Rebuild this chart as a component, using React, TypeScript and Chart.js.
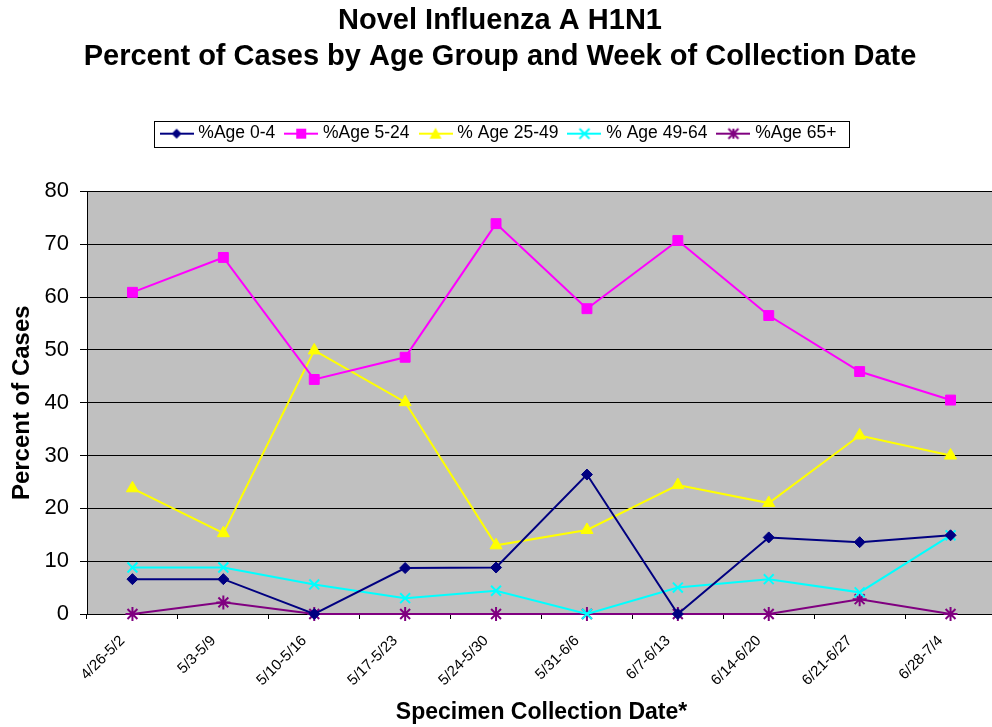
import React, { useEffect, useRef } from "react";
import { Chart, registerables } from "chart.js";

Chart.register(...registerables);

const categories = ["4/26-5/2", "5/3-5/9", "5/10-5/16", "5/17-5/23", "5/24-5/30", "5/31-6/6", "6/7-6/13", "6/14-6/20", "6/21-6/27", "6/28-7/4"];
const age0to4 = [6.6, 6.6, 0, 8.7, 8.8, 26.4, 0, 14.5, 13.6, 14.9];
const age5to24 = [60.9, 67.5, 44.4, 48.6, 73.9, 57.8, 70.7, 56.5, 45.9, 40.5];
const age25to49 = [23.8, 15.3, 49.9, 40.1, 13.0, 15.9, 24.4, 21.0, 33.8, 30.0];
const age49to64 = [8.8, 8.8, 5.6, 3.0, 4.4, 0, 5.0, 6.6, 4.1, 14.9];
const age65plus = [0, 2.2, 0, 0, 0, 0, 0, 0, 2.8, 0];
const seriesLabels = ["%Age 0-4", "%Age 5-24", "% Age 25-49", "% Age 49-64", "%Age 65+"];
const yTicks = [0, 10, 20, 30, 40, 50, 60, 70, 80];

const FONT = "'Liberation Sans', Arial, Helvetica, sans-serif";

function legendIcon(color: string, style: string): HTMLCanvasElement {
  const c = document.createElement("canvas");
  c.width = 34;
  c.height = 14;
  const ctx = c.getContext("2d")!;
  ctx.strokeStyle = color;
  ctx.lineWidth = 2;
  ctx.beginPath();
  ctx.moveTo(0, 7);
  ctx.lineTo(34, 7);
  ctx.stroke();
  ctx.fillStyle = color;
  const x = 17, y = 7, r = 5;
  ctx.beginPath();
  if (style === "rectRot") {
    ctx.moveTo(x, y - r); ctx.lineTo(x + r, y); ctx.lineTo(x, y + r); ctx.lineTo(x - r, y); ctx.closePath(); ctx.fill();
  } else if (style === "rect") {
    ctx.fillRect(x - r, y - r, 2 * r, 2 * r);
  } else if (style === "triangle") {
    ctx.moveTo(x, y - r - 1); ctx.lineTo(x + r + 1, y + r); ctx.lineTo(x - r - 1, y + r); ctx.closePath(); ctx.fill();
  } else if (style === "crossRot") {
    ctx.moveTo(x - r, y - r); ctx.lineTo(x + r, y + r); ctx.moveTo(x + r, y - r); ctx.lineTo(x - r, y + r); ctx.stroke();
  } else if (style === "star") {
    ctx.moveTo(x - r, y - r); ctx.lineTo(x + r, y + r); ctx.moveTo(x + r, y - r); ctx.lineTo(x - r, y + r);
    ctx.moveTo(x, y - r); ctx.lineTo(x, y + r); ctx.stroke();
  }
  return c;
}

const bgPlugin = {
  id: "plotBg",
  beforeDraw(chart: any) {
    const { ctx, chartArea } = chart;
    ctx.save();
    ctx.fillStyle = "#C0C0C0";
    ctx.fillRect(chartArea.left, chartArea.top, chartArea.right - chartArea.left, chartArea.bottom - chartArea.top);
    ctx.restore();
  },
};

const LEGEND_GAP_BELOW = 39;

const legendSpacePlugin = {
  id: "legendSpace",
  beforeLayout(chart: any) {
    const lg = chart.legend;
    if (!lg || lg._patched) return;
    const origFit = lg.fit;
    lg.fit = function () {
      origFit.call(this);
      this.height += LEGEND_GAP_BELOW;
    };
    lg._patched = true;
  },
};

const legendBorderPlugin = {
  id: "legendBorder",
  afterDraw(chart: any) {
    const boxes = chart.legend?.legendHitBoxes;
    if (!boxes || !boxes.length) return;
    let l = Infinity, r = -Infinity, t = Infinity, b = -Infinity;
    for (const h of boxes) {
      l = Math.min(l, h.left); r = Math.max(r, h.left + h.width);
      t = Math.min(t, h.top); b = Math.max(b, h.top + h.height);
    }
    const cy = (t + b) / 2;
    const ctx = chart.ctx;
    ctx.save();
    ctx.strokeStyle = "#000";
    ctx.lineWidth = 1;
    ctx.strokeRect(Math.round(l - 10) + 0.5, Math.round(cy - 13) + 0.5, Math.round(r - l + 22), 26);
    ctx.restore();
  },
};

export default function App() {
  const ref = useRef<HTMLCanvasElement>(null);
  useEffect(() => {
    if (!ref.current) return;
    const specs = [
      { label: seriesLabels[0], data: age0to4, color: "#000080", style: "rectRot", r: 5.5 },
      { label: seriesLabels[1], data: age5to24, color: "#FF00FF", style: "rect", r: 7 },
      { label: seriesLabels[2], data: age25to49, color: "#FFFF00", style: "triangle", r: 7 },
      { label: seriesLabels[3], data: age49to64, color: "#00FFFF", style: "crossRot", r: 7 },
      { label: seriesLabels[4], data: age65plus, color: "#800080", style: "star", r: 7 },
    ];
    const chart = new Chart(ref.current, {
      type: "line",
      data: {
        labels: categories,
        datasets: specs.map((s) => ({
          label: s.label,
          data: s.data,
          borderColor: s.color,
          backgroundColor: s.color,
          borderWidth: 2,
          pointStyle: s.style as any,
          pointRadius: s.r,
          pointBorderColor: s.color,
          pointBackgroundColor: s.color,
          pointBorderWidth: s.style === "crossRot" || s.style === "star" ? 2 : 1,
          tension: 0,
          fill: false,
          clip: false as any,
          _icon: legendIcon(s.color, s.style),
        })) as any,
      },
      options: {
        responsive: false,
        animation: false,
        devicePixelRatio: 1,
        layout: { padding: { left: 0, right: 5, top: 0, bottom: 0 } },
        plugins: {
          title: {
            display: true,
            text: ["Novel Influenza A H1N1", "Percent of Cases by Age Group and Week of Collection Date"],
            color: "#000",
            font: { family: FONT, size: 29, weight: "bold", lineHeight: 1.24 },
            padding: { top: 3, bottom: 37 },
          },
          legend: {
            display: true,
            position: "top",
            labels: {
              usePointStyle: true,
              pointStyleWidth: 26,
              color: "#000",
              font: { family: FONT, size: 17.5 },
              padding: 13,
              generateLabels: (ch: any) =>
                ch.data.datasets.map((d: any, i: number) => ({
                  text: d.label,
                  pointStyle: d._icon,
                  fillStyle: d.borderColor,
                  strokeStyle: d.borderColor,
                  lineWidth: 0,
                  hidden: false,
                  datasetIndex: i,
                  fontColor: "#000",
                })),
            },
          },
          tooltip: { enabled: false },
        },
        scales: {
          x: {
            type: "category",
            offset: true,
            afterFit: (axis: any) => {
              axis.height = 113;
            },
            grid: { offset: true, drawOnChartArea: false, drawTicks: true, tickLength: 5, color: "#000" },
            border: { color: "#000", width: 1 },
            ticks: { color: "#000", font: { family: FONT, size: 15 }, minRotation: 45, maxRotation: 45, padding: 13, labelOffset: -10 },
            title: { display: true, text: "Specimen Collection Date*", color: "#000", font: { family: FONT, size: 23, weight: "bold" }, padding: { top: 0, bottom: 1 } },
          },
          y: {
            min: 0,
            max: 80,
            afterBuildTicks: (axis: any) => {
              axis.ticks = yTicks.map((v) => ({ value: v }));
            },
            afterFit: (axis: any) => {
              axis.width = 87;
            },
            grid: { color: "#000", drawTicks: true, tickLength: 7 },
            border: { color: "#000", width: 1 },
            ticks: { color: "#000", font: { family: FONT, size: 22 }, padding: 11 },
            title: { display: true, text: "Percent of Cases", color: "#000", font: { family: FONT, size: 24, weight: "bold" }, padding: { top: 8, bottom: 0 } },
          },
        },
      },
      plugins: [bgPlugin, legendSpacePlugin, legendBorderPlugin],
    });
    return () => chart.destroy();
  }, []);
  return (
    <div style={{ position: "absolute", left: 0, top: 0, width: 992, height: 727, overflow: "hidden", background: "#fff" }}>
      <canvas ref={ref} width={1005} height={727} style={{ display: "block" }} />
    </div>
  );
}
